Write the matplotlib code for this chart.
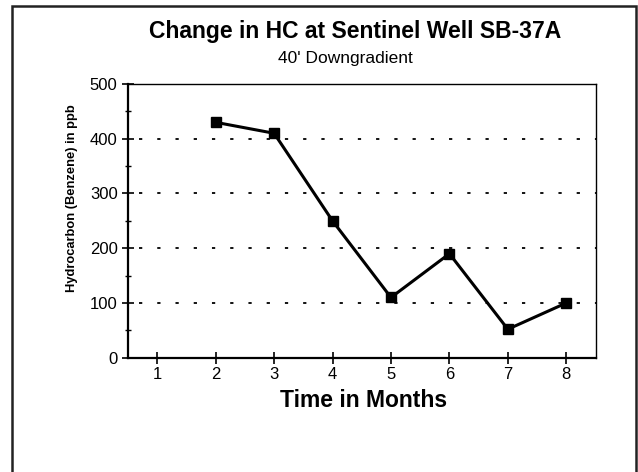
import matplotlib
matplotlib.use('Agg')
import matplotlib.pyplot as plt
from matplotlib.patches import Rectangle
from matplotlib.ticker import MultipleLocator

plt.rcParams['font.family'] = ['Liberation Sans', 'DejaVu Sans']

# datos
meses = [2, 3, 4, 5, 6, 7, 8]
benceno = [430, 410, 250, 110, 190, 52, 100]
x_ticks = [1, 2, 3, 4, 5, 6, 7, 8]
y_ticks = [0, 100, 200, 300, 400, 500]

titulo = 'Change in HC at Sentinel Well SB-37A'
subtitulo = "40' Downgradient"

W, H = 638, 472
fig = plt.figure(figsize=(W/100, H/100), dpi=100)
ax = fig.add_axes([128/W, 1-357.7/H, (595.5-128)/W, (357.7-84)/H])

# grilla punteada
for y in y_ticks[1:-1]:
    ax.axhline(y, color='black', lw=1.3, ls=(4, (1.8, 8.3)), zorder=1)

ax.plot(meses, benceno, color='black', lw=2.2, marker='s', ms=6.5,
        markerfacecolor='black', zorder=3, clip_on=False)

ax.set_xlim(0.5, 8.5)
ax.set_ylim(0, 500)
ax.set_xticks(x_ticks)
ax.set_yticks(y_ticks)
ax.yaxis.set_minor_locator(MultipleLocator(50))
ax.tick_params(axis='both', which='major', direction='inout', length=8, width=1.2,
               labelsize=12, colors='black')
ax.tick_params(axis='x', pad=3)
ax.tick_params(axis='y', which='minor', direction='inout', length=4.5, width=1.0)

for s in ['left', 'bottom']:
    ax.spines[s].set_linewidth(1.6)
for s in ['top', 'right']:
    ax.spines[s].set_linewidth(1.0)

ax.set_ylabel('Hydrocarbon (Benzene) in ppb', fontsize=9.3, fontweight='bold')
ax.yaxis.set_label_coords(-0.108, 0.584)

fig.text(364/W, 1-407/H, 'Time in Months', ha='center', va='baseline',
         fontsize=16.5, fontweight='bold')
fig.text(355.5/W, 1-38/H, titulo, ha='center', va='baseline',
         fontsize=16.5, fontweight='bold')
fig.text(345/W, 1-63/H, subtitulo, ha='center', va='baseline', fontsize=12.5)

# marco exterior
fig.patches.append(Rectangle((12/W, -0.05), (636-12)/W, 1.05-6/H,
                             transform=fig.transFigure, fill=False,
                             edgecolor='#222222', lw=1.8))

fig.savefig('out.png', dpi=100)
